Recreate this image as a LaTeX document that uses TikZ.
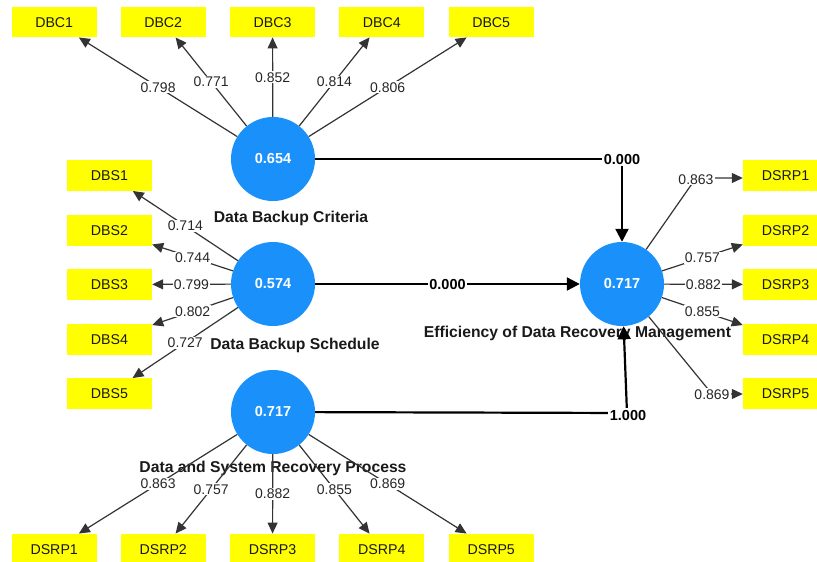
\documentclass[tikz,border=0pt]{standalone}
\usepackage{fontspec}
\setmainfont{Liberation Sans}
\usetikzlibrary{arrows.meta}
\definecolor{lvblue}{RGB}{25,144,250}
\definecolor{indyel}{RGB}{255,255,0}
\begin{document}
\begin{tikzpicture}[x=1pt,y=-1pt,
 lv/.style={circle,fill=lvblue,minimum size=84pt,inner sep=0pt,text=white,font=\fontsize{14.5}{15}\selectfont\bfseries},
 ind/.style={rectangle,fill=indyel,minimum width=85pt,minimum height=30.5pt,inner sep=0pt,font=\fontsize{14.2}{15}\selectfont,text=black!90,text height=10.2pt,text depth=0pt},
 lvname/.style={anchor=base,inner sep=0pt,font=\fontsize{15.7}{17}\selectfont\bfseries,text=black!90},
 load/.style={draw=black!80,line width=1.2pt,-{Triangle[length=11pt,width=10pt]}},
 lab/.style={fill=white,inner sep=1pt,font=\fontsize{14}{15}\selectfont,text=black!85,text height=10pt,text depth=0pt},
 pth/.style={draw=black,line width=2.2pt,-{Triangle[length=13pt,width=13pt]}},
 plab/.style={fill=white,inner sep=1.5pt,font=\fontsize{14.5}{15}\selectfont\bfseries,text height=10.4pt,text depth=0pt},
]
\useasboundingbox (0,0) rectangle (817,562);
\clip (0,0) rectangle (817,562);

% latent variables
\node[lv] (dbc) at (273,159) {0.654};
\node[lv] (dbs) at (273,284) {0.574};
\node[lv] (dsrp) at (273,412) {0.717};
\node[lv] (edrm) at (622,284) {0.717};

% names
\node[lvname] (ndbc) at (291,222.6) {Data Backup Criteria};
\node[lvname] (ndbs) at (295,349.6) {Data Backup Schedule};
\node[lvname] (nedrm) at (577.5,337.6) {Efficiency of Data Recovery Management};
\node[lvname] (ndsrp) at (273,472.6) {Data and System Recovery Process};

% top indicators
\node[ind] (c1) at (54.2,22) {DBC1};
\node[ind] (c2) at (163.2,22) {DBC2};
\node[ind] (c3) at (272.5,22) {DBC3};
\node[ind] (c4) at (381.8,22) {DBC4};
\node[ind] (c5) at (491.2,22) {DBC5};

% left indicators
\node[ind] (s1) at (109.5,175.5) {DBS1};
\node[ind] (s2) at (109.5,230.5) {DBS2};
\node[ind] (s3) at (109.5,284.5) {DBS3};
\node[ind] (s4) at (109.5,339.5) {DBS4};
\node[ind] (s5) at (109.5,393.5) {DBS5};

% right indicators
\node[ind] (r1) at (785.5,175.5) {DSRP1};
\node[ind] (r2) at (785.5,230.5) {DSRP2};
\node[ind] (r3) at (785.5,284.5) {DSRP3};
\node[ind] (r4) at (785.5,339.5) {DSRP4};
\node[ind] (r5) at (785.5,393.5) {DSRP5};

% bottom indicators
\node[ind] (p1) at (54.2,549) {DSRP1};
\node[ind] (p2) at (163.2,549) {DSRP2};
\node[ind] (p3) at (272.5,549) {DSRP3};
\node[ind] (p4) at (381.8,549) {DSRP4};
\node[ind] (p5) at (491.2,549) {DSRP5};

% loadings DBC
\draw[load] (dbc) -- node[lab] (lc1) {0.798} (c1);
\draw[load] (dbc) -- node[lab] (lc2) {0.771} (c2);
\draw[load] (dbc) -- node[lab] (lc3) {0.852} (c3);
\draw[load] (dbc) -- node[lab] (lc4) {0.814} (c4);
\draw[load] (dbc) -- node[lab] (lc5) {0.806} (c5);

% loadings DBS
\draw[load] (dbs) -- node[lab] (ls1) {0.714} (s1);
\draw[load] (dbs) -- node[lab] (ls2) {0.744} (s2);
\draw[load] (dbs) -- node[lab] (ls3) {0.799} (s3);
\draw[load] (dbs) -- node[lab] (ls4) {0.802} (s4);
\draw[load] (dbs) -- node[lab] (ls5) {0.727} (s5);

% loadings DSRP (bottom)
\draw[load] (dsrp) -- node[lab] (lp1) {0.863} (p1);
\draw[load] (dsrp) -- node[lab] (lp2) {0.757} (p2);
\draw[load] (dsrp) -- node[lab] (lp3) {0.882} (p3);
\draw[load] (dsrp) -- node[lab] (lp4) {0.855} (p4);
\draw[load] (dsrp) -- node[lab] (lp5) {0.869} (p5);

% loadings EDRM (right)
\coordinate (k1) at (696,178);
\coordinate (k5) at (712,394);
\draw[load] (edrm) -- (k1) -- (k1 -| r1.west);
\node[lab] (lr1) at (696,179) {0.863};
\draw[load] (edrm) -- node[lab] (lr2) {0.757} (r2);
\draw[load] (edrm) -- node[lab] (lr3) {0.882} (r3);
\draw[load] (edrm) -- node[lab] (lr4) {0.855} (r4);
\draw[load] (edrm) -- (k5) -- (k5 -| r5.west);
\node[lab] (lr5) at (712,394) {0.869};

% structural paths
\coordinate (b1) at (622,159);
\coordinate (b3) at (627,413);
\draw[pth] (dbc) -- (b1) -- (edrm);
\node[plab] (pc1) at (b1) {0.000};
\draw[pth] (dbs) -- node[plab] (pc2) {0.000} (edrm);
\draw[pth] (dsrp) -- (b3) -- (edrm);
\node[plab] (pc3) at (628,415) {1.000};
\end{tikzpicture}
\end{document}
